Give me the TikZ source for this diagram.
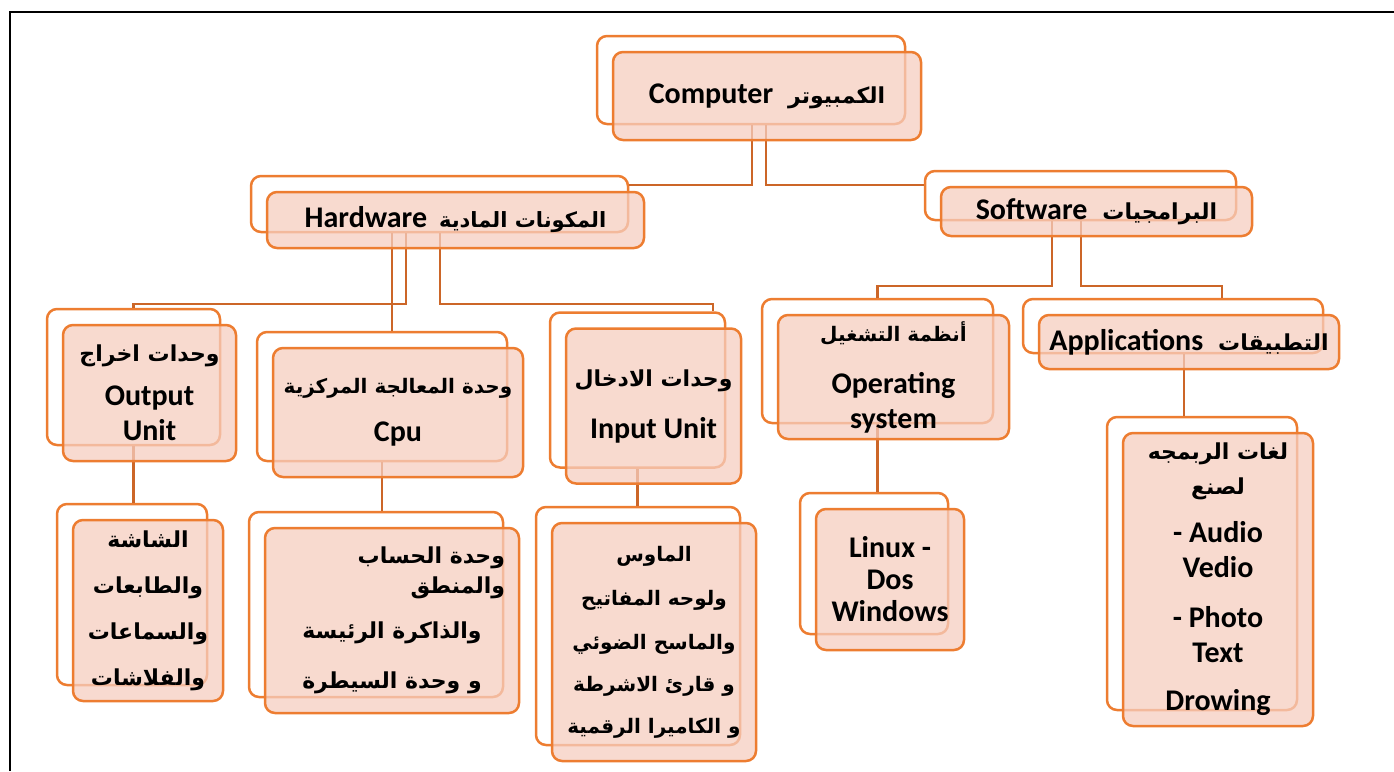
\documentclass[tikz,border=0pt]{standalone}
\usepackage{fontspec}
\setmainfont{Carlito}
\newfontfamily\arabicfont[Script=Arabic]{DejaVu Sans}
\TeXXeTstate=1
\newcommand\arab[2][22]{{\arabicfont\fontsize{#1}{35}\selectfont\beginR #2\endR}}
\definecolor{boxline}{RGB}{237,125,49}
\definecolor{boxfill}{RGB}{246,206,192}
\definecolor{linkline}{RGB}{204,102,40}
\begin{document}
\begin{tikzpicture}[x=1pt, y=-1pt,
    back/.style  = {draw=boxline, line width=2.5pt, fill=white, rounded corners=10pt, inner sep=0pt},
    front/.style = {draw=boxline, line width=2.5pt, fill=boxfill, fill opacity=0.75, text opacity=1,
                    rounded corners=10pt, inner sep=0pt, align=center,
                    font=\bfseries\fontsize{30}{35}\selectfont},
    link/.style  = {draw=linkline, line width=2.2pt}]
    \useasboundingbox (0,0) rectangle (1394,771);
    % page frame
    \draw[line width=2pt] (10,771) -- (10,12) -- (1394,12);
    % back boxes
    \node[back, minimum width=308pt, minimum height=88pt]  (compB) at (751,80)     {};
    \node[back, minimum width=377pt, minimum height=56pt]  (hwB)   at (439.5,204)  {};
    \node[back, minimum width=311pt, minimum height=49pt]  (swB)   at (1080.5,195.5) {};
    \node[back, minimum width=173pt, minimum height=136pt] (outB)  at (133.5,377)  {};
    \node[back, minimum width=250pt, minimum height=129pt] (cpuB)  at (382,396.5)  {};
    \node[back, minimum width=175pt, minimum height=155pt] (inB)   at (637.5,390)  {};
    \node[back, minimum width=231pt, minimum height=124pt] (osB)   at (877.5,361)  {};
    \node[back, minimum width=300pt, minimum height=54pt]  (appB)  at (1173,326)   {};
    \node[back, minimum width=150pt, minimum height=181pt] (scrB)  at (132,594.5)  {};
    \node[back, minimum width=254pt, minimum height=185pt] (aluB)  at (376,604.5)  {};
    \node[back, minimum width=204pt, minimum height=238pt] (devB)  at (638,626)    {};
    \node[back, minimum width=148pt, minimum height=141pt] (linB)  at (874,563.5)  {};
    \node[back, minimum width=190pt, minimum height=293pt] (lngB)  at (1202,563.5) {};
    % connectors
    \draw[link] ([xshift=1pt]compB.south) |- ([yshift=19pt]hwB.east);
    \draw[link] ([xshift=15pt]compB.south) |- ([yshift=10.5pt]swB.west);
    \draw[link] ([xshift=-28.5pt]swB.south) -- ++(0,65) -| (osB.north);
    \draw[link] ([xshift=0.5pt]swB.south) -- ++(0,65) -| ([xshift=49pt]appB.north);
    \draw[link] ([xshift=-47.5pt]hwB.south) -- ([xshift=10pt]cpuB.north);
    \draw[link] ([xshift=-33.5pt]hwB.south) -- ++(0,71) -| (outB.north);
    \draw[link] ([xshift=0.5pt]hwB.south) -- ++(0,71) -| ([xshift=75.5pt]inB.north);
    \draw[link] (outB.south) -- (outB.south |- scrB.north);
    \draw[link] (cpuB.south) -- (cpuB.south |- aluB.north);
    \draw[link] (inB.south) -- (inB.south |- devB.north);
    \draw[link] (osB.south) -- (osB.south |- linB.north);
    \draw[link] ([xshift=11pt]appB.south) -- ([xshift=11pt]appB.south |- lngB.north);
    % front boxes
    \node[front, minimum width=308pt, minimum height=88pt]  (comp) at ([shift={(16pt,-16pt)}]compB)
        {Computer\hspace{15pt}\arab{الكمبيوتر}};
    \node[front, minimum width=377pt, minimum height=56pt]  (hw)   at ([shift={(16pt,-16pt)}]hwB)
        {Hardware\hspace{12pt}\arab[21]{المكونات المادية}};
    \node[front, minimum width=311pt, minimum height=49pt]  (sw)   at ([shift={(16pt,-16pt)}]swB)
        {Software\hspace{15pt}\arab{البرامجيات}};
    \node[front, minimum width=173pt, minimum height=136pt] (out)  at ([shift={(16pt,-16pt)}]outB)
        {\arab{وحدات اخراج}\\[9pt] Output\\ Unit};
    \node[front, minimum width=250pt, minimum height=129pt] (cpu)  at ([shift={(16pt,-16pt)}]cpuB)
        {\arab[20]{وحدة المعالجة المركزية}\\[13pt] Cpu};
    \node[front, minimum width=175pt, minimum height=155pt] (in)   at ([shift={(16pt,-16pt)}]inB)
        {\arab{وحدات الادخال}\\[17pt] Input Unit};
    \node[front, minimum width=231pt, minimum height=124pt] (os)   at ([shift={(16pt,-16pt)}]osB)
        {\arab[20]{أنظمة التشغيل}\\[17pt] Operating\\ system};
    \node[front, minimum width=300pt, minimum height=54pt]  (app)  at ([shift={(16pt,-16pt)}]appB)
        {Applications\hspace{15pt}\arab{التطبيقات}};
    \node[front, minimum width=150pt, minimum height=181pt] (scr)  at ([shift={(16pt,-16pt)}]scrB)
        {\arab{الشاشة}\\[11pt] \arab{والطابعات}\\[11pt] \arab{والسماعات}\\[11pt] \arab{والفلاشات}};
    \node[front, minimum width=254pt, minimum height=185pt] (alu)  at ([shift={(16pt,-16pt)}]aluB)
        {\makebox[226pt][r]{\arab{وحدة الحساب}}\\[-5pt]
         \makebox[226pt][r]{\arab{والمنطق}}\\[10pt]
         \arab{والذاكرة الرئيسة}\\[15pt] \arab{و وحدة السيطرة}};
    \node[front, minimum width=204pt, minimum height=238pt] (dev)  at ([shift={(16pt,-16pt)}]devB)
        {\arab[20]{الماوس}\\[9pt] \arab[20]{ولوحه المفاتيح}\\[9pt] \arab[20]{والماسح الضوئي}\\[7pt]
         \arab[20]{و قارئ الاشرطة}\\[7pt] \arab[20]{و الكاميرا الرقمية}};
    \node[front, minimum width=148pt, minimum height=141pt] (lin)  at ([shift={(16pt,-16pt)}]linB)
        {Linux -\\[-3pt] Dos\\[-3pt] Windows};
    \node[front, minimum width=190pt, minimum height=293pt] (lng)  at ([shift={(16pt,-16pt)}]lngB)
        {\arab{لغات الربمجه}\\ \arab{لصنع}\\[13pt] - Audio\\ Vedio\\[15pt] - Photo\\ Text\\[13pt] Drowing};
\end{tikzpicture}
\end{document}
